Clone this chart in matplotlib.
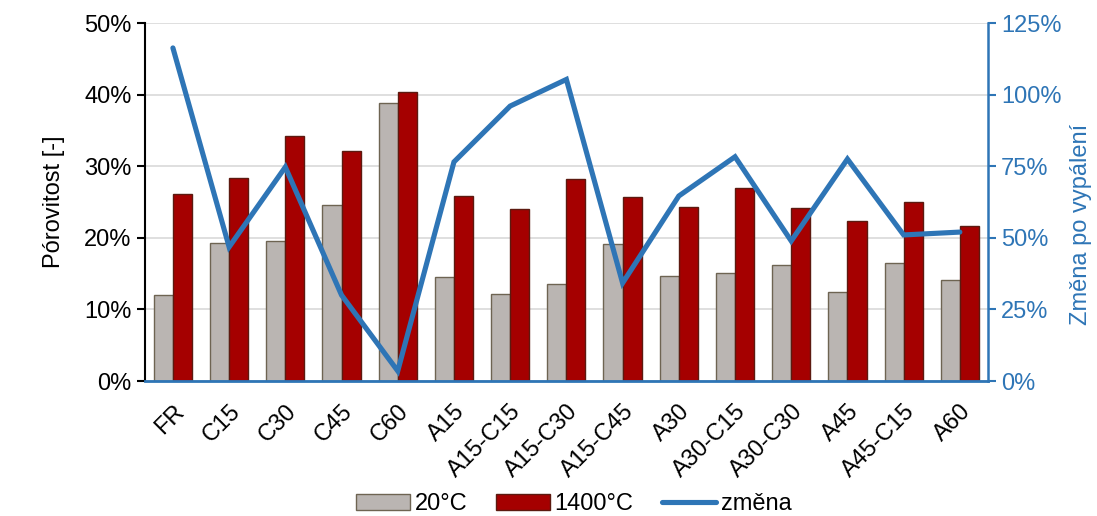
import matplotlib.pyplot as plt
import numpy as np
from matplotlib.ticker import PercentFormatter
from matplotlib.transforms import ScaledTranslation

plt.rcParams['font.family'] = ['Liberation Sans', 'DejaVu Sans']

# data
kategorie = ['FR', 'C15', 'C30', 'C45', 'C60', 'A15', 'A15-C15', 'A15-C30', 'A15-C45',
             'A30', 'A30-C15', 'A30-C30', 'A45', 'A45-C15', 'A60']
por_20 = [12.0, 19.3, 19.6, 24.6, 38.8, 14.5, 12.2, 13.6, 19.1, 14.7, 15.1, 16.2, 12.4, 16.5, 14.1]
por_1400 = [26.1, 28.3, 34.2, 32.1, 40.3, 25.8, 24.0, 28.2, 25.7, 24.3, 27.0, 24.1, 22.3, 25.0, 21.7]
zmena = [116.3, 46.8, 74.7, 30.0, 3.5, 76.5, 96.0, 105.3, 34.2, 64.6, 78.3, 48.9, 77.5, 51.0, 52.0]

modra = '#2E75B6'
fs = 17

fig = plt.figure(figsize=(10.97, 5.16), dpi=100)
ax1 = fig.add_axes([0.132, 0.2616, 0.7686, 0.6938])
ax2 = ax1.twinx()

x = np.arange(len(kategorie))
w = 0.34
ax1.bar(x - w/2, por_20, w, color='#BAB5B2', edgecolor='#6E6452', linewidth=1.0, label='20°C', zorder=2)
ax1.bar(x + w/2, por_1400, w, color='#A50000', edgecolor='#5C1A10', linewidth=1.0, label='1400°C', zorder=2)
ax2.plot(x, zmena, color=modra, linewidth=3.7, label='změna', solid_capstyle='round', solid_joinstyle='miter')

ax1.set_xlim(-0.5, len(kategorie) - 0.5)
ax1.set_ylim(0, 50)
ax2.set_ylim(0, 125)
ax1.set_yticks(np.arange(0, 51, 10))
ax2.set_yticks(np.arange(0, 126, 25))
ax1.yaxis.set_major_formatter(PercentFormatter(decimals=0))
ax2.yaxis.set_major_formatter(PercentFormatter(decimals=0))
ax1.grid(axis='y', color='#D9D9D9', linewidth=1.2, zorder=0)
ax1.set_axisbelow(True)

ax1.set_xticks(x)
ax1.set_xticklabels(kategorie, rotation=45, ha='right', rotation_mode='anchor', fontsize=fs)
posun = ScaledTranslation(-5 / 100, 0, fig.dpi_scale_trans)
for lbl in ax1.get_xticklabels():
    lbl.set_transform(lbl.get_transform() + posun)
ax1.tick_params(axis='x', length=0, pad=14)
ax1.tick_params(axis='y', labelsize=fs, length=6, width=1.5, direction='out', color='black')
ax2.tick_params(axis='y', labelsize=fs, length=6, width=1.5, direction='out', color=modra, labelcolor=modra)

ax1.set_ylabel('Pórovitost [-]', fontsize=fs, labelpad=14)
ax2.set_ylabel('Změna po vypálení', fontsize=fs, color=modra, labelpad=6, y=0.436)

for a in (ax1, ax2):
    a.spines['top'].set_visible(False)
ax1.spines['left'].set_linewidth(1.5)
ax1.spines['left'].set_color('black')
ax2.spines['left'].set_visible(False)
ax1.spines['right'].set_visible(False)
ax2.spines['right'].set_color(modra)
ax2.spines['right'].set_linewidth(1.8)
ax1.spines['bottom'].set_color(modra)
ax1.spines['bottom'].set_linewidth(2)
ax2.spines['bottom'].set_visible(False)

h1, l1 = ax1.get_legend_handles_labels()
h2, l2 = ax2.get_legend_handles_labels()
fig.legend(h1 + h2, l1 + l2, loc='lower center', bbox_to_anchor=(0.523, -0.04), ncol=3, frameon=False,
           fontsize=fs, handlelength=2.3, handletextpad=0.2, columnspacing=1.2)

fig.savefig('out.png', dpi=100)
